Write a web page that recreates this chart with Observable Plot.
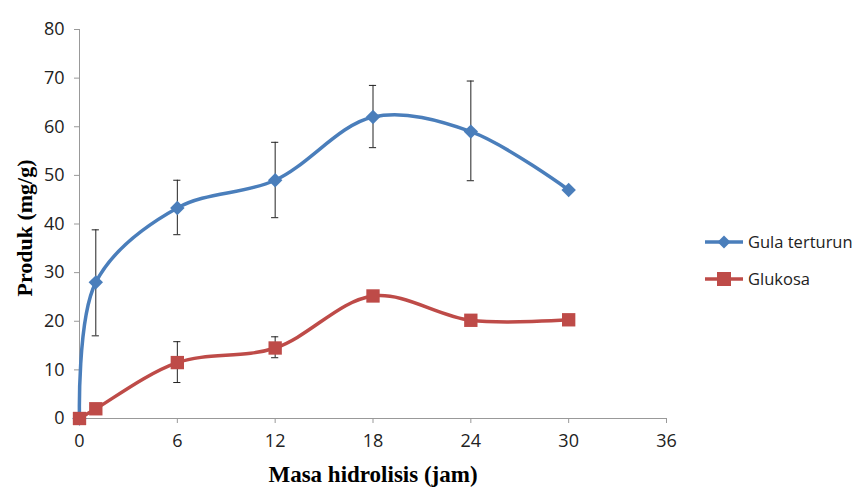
<!DOCTYPE html>
<html><head><meta charset="utf-8">
<script src="https://cdn.jsdelivr.net/npm/d3@7"></script>
<script src="https://cdn.jsdelivr.net/npm/@observablehq/plot@0.6"></script>
<style>
body{margin:0;background:#fff;}
#wrap{position:relative;width:866px;height:487px;}
.leg{position:absolute;left:704px;font-family:"Open Sans",sans-serif;font-size:16.5px;color:#222;display:flex;align-items:center;}
.leg svg{margin-right:4px;}
</style>
</head><body>
<div id="wrap"></div>
<script>
const hours = [0, 1, 6, 12, 18, 24, 30];
const gulaTerturun = [0, 28, 43.3, 49, 62, 59, 47];
const glukosa = [0, 2, 11.5, 14.5, 25.2, 20.2, 20.3];
// error bars [x, low, high]
const gulaErrX = [0, 1, 6, 12, 18, 24];
const gulaErrLow = [0, 17, 37.8, 41.3, 55.7, 48.9];
const gulaErrHigh = [9.7, 38.8, 49, 56.8, 68.5, 69.4];
const gluErrX = [6, 12];
const gluErrLow = [7.4, 12.5];
const gluErrHigh = [15.8, 16.8];
const xTicks = [0, 6, 12, 18, 24, 30, 36];
const yTicks = [0, 10, 20, 30, 40, 50, 60, 70, 80];

const blue = "#4a7ebb", red = "#be4b48";
const gula = hours.map((h, i) => ({x: h, y: gulaTerturun[i]}));
const glu = hours.map((h, i) => ({x: h, y: glukosa[i]}));
const errs = [
  ...gulaErrX.map((x, i) => ({x, lo: gulaErrLow[i], hi: gulaErrHigh[i], cap: x !== 0})),
  ...gluErrX.map((x, i) => ({x, lo: gluErrLow[i], hi: gluErrHigh[i], cap: true}))
];
const caps = errs.filter(d => d.cap).flatMap(d => [{x: d.x, y: d.lo}, {x: d.x, y: d.hi}]);

const chart = Plot.plot({
  width: 866, height: 487,
  marginLeft: 79, marginRight: 200, marginTop: 29, marginBottom: 69,
  style: {fontFamily: "'Open Sans', sans-serif", fontSize: "18px", color: "#222", background: "#fff"},
  x: {domain: [0, 36]},
  y: {domain: [0, 80]},
  marks: [
    Plot.ruleX([0], {stroke: "#999", strokeWidth: 1}),
    Plot.ruleY([0], {stroke: "#999", strokeWidth: 1}),
    Plot.axisX({ticks: xTicks, tickSize: 5, stroke: "#999", tickPadding: 11, label: null, fontSize: 18}),
    Plot.axisY({ticks: yTicks, tickSize: 5, stroke: "#999", tickPadding: 10, label: null, fontSize: 18}),
    Plot.ruleX(errs, {x: "x", y1: "lo", y2: "hi", stroke: "#222", strokeWidth: 1}),
    Plot.ruleY(caps, {y: "y", x1: d => d.x - 0.22, x2: d => d.x + 0.22, stroke: "#222", strokeWidth: 1}),
    Plot.line(gula, {x: "x", y: "y", stroke: blue, strokeWidth: 3.5, curve: "catmull-rom"}),
    Plot.line(glu, {x: "x", y: "y", stroke: red, strokeWidth: 3.5, curve: "catmull-rom"}),
    Plot.dot(gula, {x: "x", y: "y", symbol: "diamond2", r: 6.5, fill: blue, stroke: "none"}),
    Plot.dot(glu, {x: "x", y: "y", symbol: "square2", r: 8.5, fill: red, stroke: "none"}),
    Plot.text(["Masa hidrolisis (jam)"], {frameAnchor: "bottom", dy: 63, text: d => d, fontFamily: "'Liberation Serif', serif", fontWeight: "bold", fontSize: 23, fill: "#000"}),
    Plot.text(["Produk (mg/g)"], {frameAnchor: "left", dx: -55, dy: 4, rotate: -90, textAnchor: "middle", text: d => d, fontFamily: "'Liberation Serif', serif", fontWeight: "bold", fontSize: 22, fill: "#000"})
  ]
});
const wrap = document.getElementById("wrap");
wrap.appendChild(chart);
const legend = [["Gula terturun", blue, "diamond"], ["Glukosa", red, "square"]];
legend.forEach(([name, col, sym], i) => {
  const div = document.createElement("div");
  div.className = "leg";
  div.style.top = (230 + i * 37) + "px";
  const mk = sym === "diamond"
    ? `<polygon points="20,3.5 26.5,10 20,16.5 13.5,10" fill="${col}"/>`
    : `<rect x="13" y="3" width="14" height="14" fill="${col}"/>`;
  div.innerHTML = `<svg width="40" height="20"><line x1="1" y1="10" x2="39" y2="10" stroke="${col}" stroke-width="3.5"/>${mk}</svg><span>${name}</span>`;
  wrap.appendChild(div);
});
</script>
</body></html>
